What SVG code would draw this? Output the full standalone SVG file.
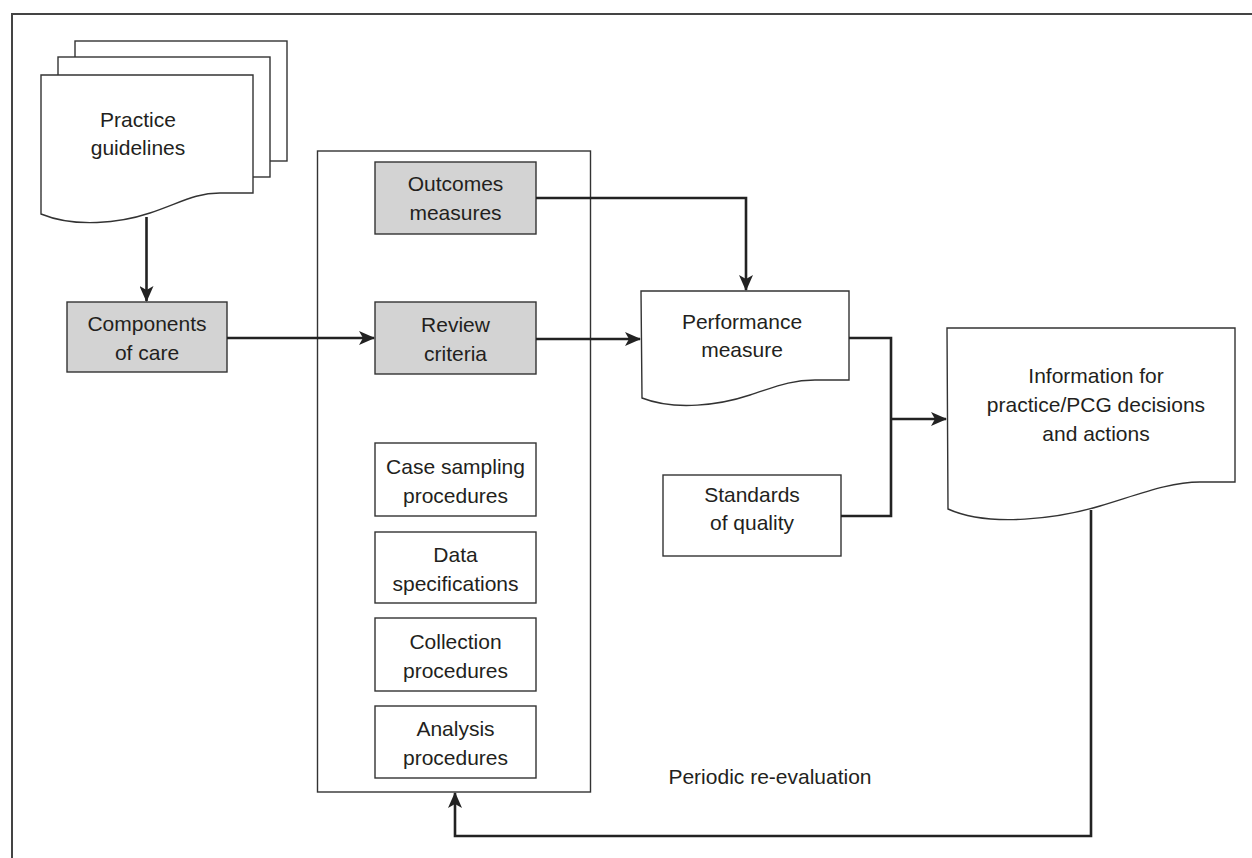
<svg xmlns="http://www.w3.org/2000/svg" width="1252" height="858" viewBox="0 0 1252 858">
<defs>
<style>
.box{fill:#fff;stroke:#333;stroke-width:1.4}
.grey{fill:#d3d3d3;stroke:#333;stroke-width:1.4}
.conn{fill:none;stroke:#222;stroke-width:2.6}
.frame{fill:none;stroke:#444;stroke-width:2}
text{font-family:"Liberation Sans",Arial,sans-serif;font-size:21px;fill:#231f20;text-anchor:middle}
</style>
<marker id="arr" markerWidth="16" markerHeight="14" viewBox="0 0 16 14" refX="15" refY="7" orient="auto" markerUnits="userSpaceOnUse">
<path d="M0,0 L16,7 L0,14 L4,7 Z" fill="#222"/>
</marker>
</defs>
<rect width="1252" height="858" fill="#fff"/>
<path class="frame" d="M12,858 L12,14 L1252,14"/>

<g id="practice-guidelines">
<rect class="box" x="75" y="41" width="212" height="120"/>
<rect class="box" x="58" y="57" width="212" height="120"/>
<path class="box" d="M41,75 L253,75 L253,193 L220,193 C195,193 180,203 150,213 C120,223 75,228 41,214 Z"/>
<text x="138" y="127">Practice</text>
<text x="138" y="155">guidelines</text>
</g>

<g id="components-of-care">
<rect class="grey" x="67" y="302" width="160" height="70"/>
<text x="147" y="331">Components</text>
<text x="147" y="360">of care</text>
</g>

<g id="container">
<rect class="box" x="317.5" y="151" width="273" height="641"/>
</g>

<g id="outcomes-measures">
<rect class="grey" x="375" y="162" width="161" height="72"/>
<text x="455.5" y="191">Outcomes</text>
<text x="455.5" y="220">measures</text>
</g>

<g id="review-criteria">
<rect class="grey" x="375" y="302" width="161" height="72"/>
<text x="455.5" y="332">Review</text>
<text x="455.5" y="361">criteria</text>
</g>

<g id="case-sampling">
<rect class="box" x="375" y="443" width="161" height="73"/>
<text x="455.5" y="474">Case sampling</text>
<text x="455.5" y="503">procedures</text>
</g>

<g id="data-specifications">
<rect class="box" x="375" y="532" width="161" height="71"/>
<text x="455.5" y="562">Data</text>
<text x="455.5" y="591">specifications</text>
</g>

<g id="collection-procedures">
<rect class="box" x="375" y="618" width="161" height="73"/>
<text x="455.5" y="649">Collection</text>
<text x="455.5" y="678">procedures</text>
</g>

<g id="analysis-procedures">
<rect class="box" x="375" y="706" width="161" height="72"/>
<text x="455.5" y="736">Analysis</text>
<text x="455.5" y="765">procedures</text>
</g>

<g id="performance-measure">
<path class="box" d="M641,291 L849,291 L849,380 L815,380 C790,380 775,387 750,395 C720,405 675,411 642,398 Z"/>
<text x="742" y="329">Performance</text>
<text x="742" y="357">measure</text>
</g>

<g id="standards-of-quality">
<rect class="box" x="663" y="475" width="178" height="81"/>
<text x="752" y="502">Standards</text>
<text x="752" y="530">of quality</text>
</g>

<g id="information">
<path class="box" d="M947,328 L1235,328 L1235,482 L1200,482 C1170,482 1140,494 1100,506 C1060,518 990,528 948,509 Z"/>
<text x="1096" y="383">Information for</text>
<text x="1096" y="412">practice/PCG decisions</text>
<text x="1096" y="441">and actions</text>
</g>

<g id="connectors">
<path class="conn" d="M146.5,217 L146.5,301" marker-end="url(#arr)"/>
<path class="conn" d="M227,338 L374,338" marker-end="url(#arr)"/>
<path class="conn" d="M536,198 L746,198 L746,290" marker-end="url(#arr)"/>
<path class="conn" d="M536,339 L640,339" marker-end="url(#arr)"/>
<path class="conn" d="M849,338 L891,338 L891,516 L841,516"/>
<path class="conn" d="M891,419 L946,419" marker-end="url(#arr)"/>
<path class="conn" d="M1091,510 L1091,836 L455,836 L455,793" marker-end="url(#arr)"/>
<text x="770" y="784">Periodic re-evaluation</text>
</g>
</svg>
